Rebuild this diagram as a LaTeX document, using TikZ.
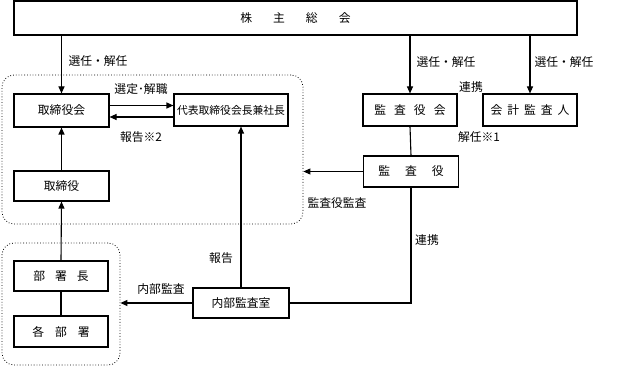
\documentclass[tikz,border=0pt]{standalone}
\usepackage{fontspec}
\setmainfont{Noto Sans CJK JP}
\usetikzlibrary{arrows.meta}
\begin{document}
\begin{tikzpicture}[x=1pt,y=-1pt,
  font=\fontsize{11.8}{13}\selectfont,
  box/.style={draw, line width=1.1pt, inner sep=0pt, fill=white},
  grp/.style={draw, dotted, line width=0.8pt, rounded corners=12pt, inner sep=0pt},
  conn/.style={line width=1.1pt},
  arr/.style={line width=1.1pt, -{Triangle[length=7pt,width=6pt]}},
  lbl/.style={inner sep=0pt}]
\useasboundingbox (0,0) rectangle (624,366);
% groups
\node[grp, minimum width=301pt, minimum height=149pt] (g1) at (152.5,149.5) {};
\node[grp, minimum width=118pt, minimum height=122pt] (g2) at (61,304) {};
% boxes
\node[box, minimum width=563pt, minimum height=34pt] (sk) at (295.5,18) {株\hspace{21pt}主\hspace{21pt}総\hspace{21pt}会};
\node[box, minimum width=95pt, minimum height=33pt] (tk) at (61.5,110.5) {取締役会};
\node[box, minimum width=114pt, minimum height=32pt] (dh) at (231,110) {\fontsize{10.8}{13}\selectfont 代表取締役会長兼社長};
\node[box, minimum width=95pt, minimum height=30pt] (tr) at (61.5,186) {取締役};
\node[box, minimum width=94pt, minimum height=30pt] (bc) at (61,276) {部\hspace{10pt}署\hspace{10pt}長};
\node[box, minimum width=94pt, minimum height=31pt] (kb) at (61,331.5) {各\hspace{11pt}部\hspace{11pt}署};
\node[box, minimum width=96pt, minimum height=30pt] (nb) at (241,303) {内部監査室};
\node[box, minimum width=94pt, minimum height=32pt] (kk) at (410,110) {監\hspace{8pt}査\hspace{8pt}役\hspace{8pt}会};
\node[box, minimum width=94pt, minimum height=32pt] (kj) at (530,110) {会\hspace{5pt}計\hspace{5pt}監\hspace{5pt}査\hspace{5pt}人};
\node[box, minimum width=95pt, minimum height=31pt] (ky) at (411,171.5) {監\hspace{15pt}査\hspace{15pt}役};
% connectors
\draw[arr] (tk.north |- sk.south) -- (tk.north);
\draw[arr] (kk.north |- sk.south) -- (kk.north);
\draw[arr] (kj.north |- sk.south) -- (kj.north);
\draw[arr] ([yshift=5pt]tk.east) -- ([yshift=5pt]tk.east -| dh.west);
\draw[arr] ([yshift=-7pt]dh.west) -- ([yshift=-7pt]dh.west -| tk.east);
\draw[arr] (tr.north) -- (tk.south);
\draw[arr] (bc.north) -- (tr.south);
\draw[conn] (bc.south) -- (kb.north);
\draw[arr] (nb.north) -- (nb.north |- dh.south);
\draw[arr] (nb.west) -- (nb.west -| g2.east);
\draw[conn] (kk.south) -- (ky.north);
\draw[arr] (ky.west) -- (ky.west -| g1.east);
\draw[conn] (nb.east) -- (nb.east -| ky.south) -- (ky.south);
% labels
\node[lbl] (l1) at (98,61) {選任・解任};
\node[lbl] (l2) at (446,62) {選任・解任};
\node[lbl] (l3) at (564,62) {選任・解任};
\node[lbl] (l4) at (471,87) {連携};
\node[lbl] (l5) at (141,89) {選定･解職};
\node[lbl] (l6) at (141,137) {報告※2};
\node[lbl] (l7) at (479,137) {解任※1};
\node[lbl] (l8) at (337,203) {監査役監査};
\node[lbl] (l9) at (427,240) {連携};
\node[lbl] (l10) at (221,258) {報告};
\node[lbl] (l11) at (161,289) {内部監査};
\end{tikzpicture}
\end{document}
